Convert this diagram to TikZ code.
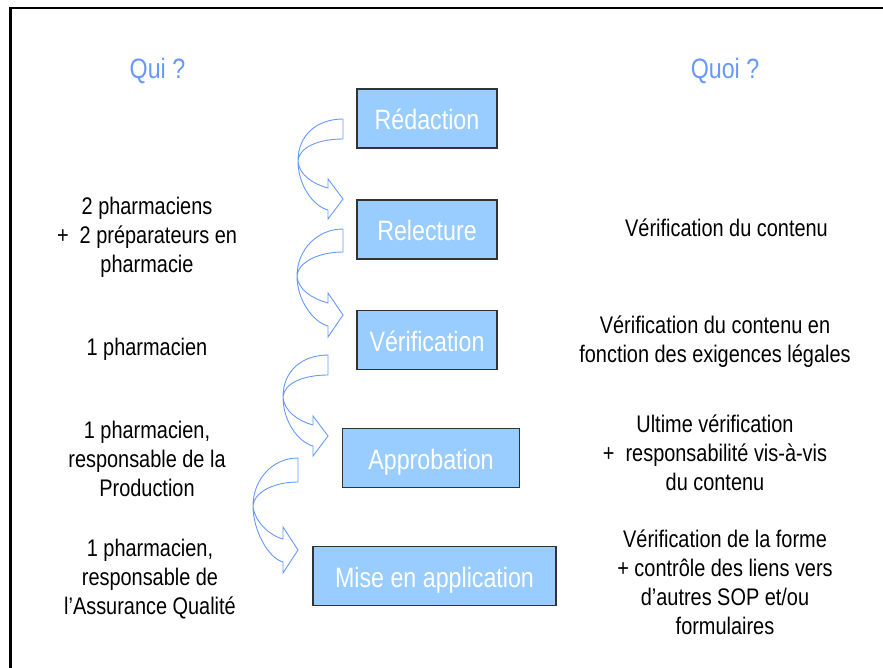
\documentclass[tikz,border=0pt]{standalone}
\usepackage{fontspec}
\setmainfont{Liberation Sans}[FakeStretch=0.83]
\definecolor{boxfill}{HTML}{99CCFF}
\definecolor{boxline}{HTML}{333333}
\definecolor{qblue}{HTML}{6699FF}
\newcommand\curvarr[9]{%
  \draw[carrow] (#1,#2) .. controls ({#1-26},#2) and (#4,{#5-26}) .. (#4,#5)
    .. controls (#4,{#5+24}) and ({#1-30},{#7-4}) .. ({#1-15},#7)
    -- ({#1-15},#9) -- (#1,{(#8+#9)/2}) -- ({#1-15},#8) -- ({#1-15},#6)
    .. controls ({#1-30},{#6-4}) and ({#4+1},{#5+14}) .. (#4,#5)
    .. controls ({#4+1},{#5-14}) and ({#1-24},#3) .. (#1,#3) -- cycle;}
\begin{document}
\begin{tikzpicture}[x=1pt,y=-1pt,
  stepbox/.style={draw=boxline,line width=1.1pt,fill=boxfill,text=white,
    minimum height=59pt,inner sep=0pt,text height=22pt,text depth=0pt,
    font=\fontsize{28}{33}\selectfont},
  header/.style={text=qblue,inner sep=0pt,font=\fontsize{28}{33}\selectfont},
  info/.style={text=black,inner sep=0pt,align=center,font=\fontsize{24}{29}\selectfont},
  carrow/.style={draw=qblue,line width=0.9pt,line join=miter}]
\useasboundingbox (0,0) rectangle (883,668);
\clip (0,0) rectangle (883,668);
\draw[line width=2.7pt] (10.5,8) rectangle (940,720);

\node[header] (qui) at (157.5,71) {Qui ?};
\node[header] (quoi) at (725,71) {Quoi ?};

\node[stepbox,minimum width=140pt] (redaction) at (427,118.5) {Rédaction};
\node[stepbox,minimum width=140pt] (relecture) at (427,229.5) {Relecture};
\node[stepbox,minimum width=140pt] (verif) at (427,340) {Vérification};
\node[stepbox,minimum width=177pt] (approb) at (431,458) {Approbation};
\node[stepbox,minimum width=243pt] (mise) at (434.5,576) {Mise en application};

\curvarr{343}{119}{139}{298}{161}{188}{210}{179}{219}
\curvarr{343}{229}{252}{297}{276}{303}{326}{293}{337}
\curvarr{328}{355}{375}{283}{397}{425}{446}{416}{456}
\curvarr{298}{458}{482}{253}{506}{539}{562}{527}{573}

\node[info] (l1) at (147,237) {2 pharmaciens\\+\ \ 2 préparateurs en\\pharmacie};
\node[info] (l2) at (147,349) {1 pharmacien};
\node[info] (l3) at (147,459) {1 pharmacien,\\responsable de la\\Production};
\node[info] (l4) at (150,579) {1 pharmacien,\\responsable de\\l’Assurance Qualité};

\node[info] (r1) at (726.5,228) {Vérification du contenu};
\node[info] (r2) at (715,341.5) {Vérification du contenu en\\fonction des exigences légales};
\node[info] (r3) at (715,452.5) {Ultime vérification\\+\ \ responsabilité vis-à-vis\\du contenu};
\node[info] (r4) at (725,582.5) {Vérification de la forme\\+ contrôle des liens vers\\d’autres SOP et/ou\\formulaires};
\end{tikzpicture}
\end{document}
